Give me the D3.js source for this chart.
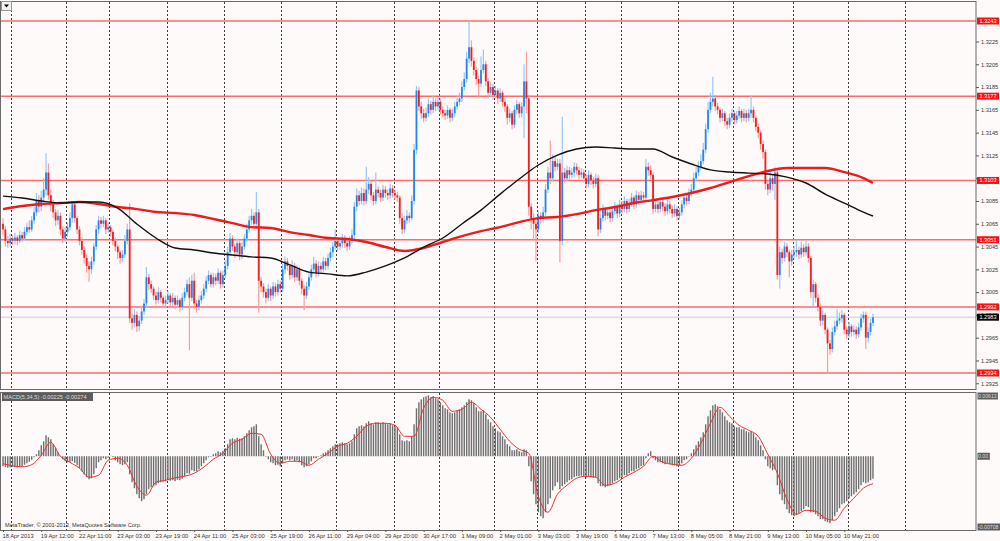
<!DOCTYPE html>
<html>
<head>
<meta charset="utf-8">
<script src="https://cdn.jsdelivr.net/npm/d3@7"></script>
<style>
  body { margin: 0; background: #fffafa; }
  svg { display: block; font-family: "Liberation Sans", Arial, sans-serif; }
</style>
</head>
<body>
<script>
// prices are kept as pips above 1.2900
const BASE = 1.29;
const firstOpen = 165;

const closes = [
  160,150,148,152,150,153,150,155,152,158, 162,160,168,175,185,180,188,195,210,190,
  182,175,168,172,160,152,158,162,170,182, 170,160,150,142,135,128,125,132,145,160,
  168,165,168,160,162,158,150,145,140,135, 138,150,160,82,78,85,75,80,88,95,
  118,112,108,102,98,105,100,95,98,102, 96,100,94,98,92,100,105,112,100,115,
  95,92,98,102,108,115,120,112,118,115, 122,112,120,128,140,152,145,140,148,138,
  145,152,160,168,172,165,175,115,110,105, 100,108,102,110,105,112,108,125,132,128,
  120,128,118,125,115,108,102,110,118,125, 130,122,128,125,132,128,135,140,145,150,
  145,148,152,148,145,150,155,180,190,185, 192,185,195,200,190,185,195,192,188,195,
  192,190,196,192,190,188,170,160,168,172, 170,185,230,282,268,262,258,262,270,265,
  272,268,272,265,262,260,265,258,262,268, 272,275,285,292,310,320,308,300,292,288,
  300,305,290,280,285,278,282,275,280,272, 268,258,262,252,265,270,262,268,290,275,
  180,170,165,160,172,170,175,195,210,205, 220,215,218,150,210,205,212,208,210,215,
  212,208,210,205,200,208,203,200,205,160, 170,178,172,175,170,176,180,174,182,178,
  185,178,183,188,182,190,186,190,188,215, 212,208,178,182,178,184,180,176,182,178,
  174,178,172,175,182,188,185,192,195,205, 210,215,220,230,248,265,272,275,268,265,
  258,262,255,252,258,262,256,260,264,258, 262,258,262,265,258,250,245,235,228,200,
  195,205,200,210,120,140,135,145,140,132, 138,140,142,138,144,140,145,135,105,112,
  100,92,80,85,72,60,55,70,75,80, 82,85,72,68,75,70,72,68,74,82,
  85,65,70,78,83
];

const highs = [
  170,163,154,156,155,157,155,159,158,162, 166,168,172,180,192,190,194,205,227,218,
  195,186,178,177,175,163,162,166,175,185, 184,172,163,153,145,138,132,136,148,164,
  172,171,172,170,166,164,160,153,147,142, 142,155,165,183,86,90,88,84,93,99,
  127,121,115,110,105,109,107,102,102,106, 104,104,102,102,100,104,109,116,118,120,
  122,98,102,106,112,119,124,122,122,121, 126,124,124,133,145,157,155,148,152,150,
  149,156,165,172,178,175,193,178,118,113, 108,112,110,114,113,116,115,130,136,135,
  130,133,131,129,127,117,111,114,122,129, 136,133,132,131,136,135,139,144,149,160,
  152,152,156,155,151,154,160,184,196,194, 197,196,215,206,203,193,210,198,195,199,
  198,195,200,199,195,193,190,174,172,177, 175,190,235,286,285,272,266,267,275,273,
  277,275,276,275,268,265,269,267,266,272, 277,280,290,298,316,343,326,311,303,295,
  312,318,308,293,290,288,286,284,284,282, 275,270,266,264,269,274,272,272,305,316,
  278,183,174,168,176,175,180,200,215,238, 226,224,222,222,259,214,216,215,214,219,
  218,215,214,213,208,212,210,206,209,208, 174,182,180,179,177,180,184,182,186,185,
  189,187,187,192,190,194,193,194,193,222, 219,216,210,186,185,188,187,183,186,185,
  181,182,180,179,186,192,191,196,200,210, 215,220,226,236,253,272,280,294,278,271,
  267,266,264,258,262,266,264,264,268,266, 266,265,266,278,268,260,253,247,238,230,
  203,212,208,215,212,145,143,149,148,142, 142,145,151,145,149,147,150,148,137,116,
  114,103,95,89,87,74,63,74,80,90, 87,89,87,75,79,77,76,75,78,86,
  88,88,74,82,86
];

const lows = [
  155,145,144,145,146,147,146,148,149,150, 155,157,158,165,172,175,176,185,190,186,
  176,170,163,164,155,148,149,154,159,166, 166,156,146,138,130,122,114,121,129,142,
  156,161,162,156,157,154,146,141,134,130, 131,135,147,78,72,74,70,71,77,85,
  92,107,104,98,94,95,96,91,92,95, 92,93,90,91,88,89,97,102,54,97,
  90,87,89,95,99,105,112,109,109,111, 112,108,109,117,125,137,141,135,137,133,
  134,142,149,157,164,161,162,87,105,100, 95,97,97,99,101,102,104,105,121,124,
  116,117,114,115,111,103,89,99,107,115, 122,118,119,121,122,124,125,132,136,142,
  141,142,144,144,141,142,147,152,176,181, 182,181,182,191,186,181,182,188,184,185,
  188,186,187,188,186,184,165,156,157,165, 166,168,182,226,264,257,254,255,259,261,
  262,264,265,261,258,256,257,254,255,259, 265,269,272,282,289,306,303,295,287,276,
  285,297,286,275,276,274,275,270,272,268, 263,252,254,248,249,261,258,258,240,262,
  172,160,150,132,157,165,166,172,192,200, 202,211,212,131,146,201,202,204,205,206,
  208,204,205,201,196,197,199,196,197,154, 157,167,168,169,166,167,173,170,171,174,
  175,174,175,180,178,179,182,183,184,185, 207,204,174,175,174,175,176,172,173,174,
  170,171,168,169,172,179,181,182,189,192, 202,207,212,217,227,245,262,268,264,261,
  254,255,251,248,249,255,252,253,257,254, 255,254,255,258,254,246,240,230,222,195,
  190,192,194,186,116,108,130,132,136,118, 128,134,136,134,135,136,137,131,100,92,
  96,88,75,76,68,34,50,52,67,72, 77,78,68,64,65,66,67,64,65,71,
  78,55,61,67,75
];

// moving averages, read every 8 bars (last point at bar 364)
const maBars = [0,8,16,24,32,40,48,56,64,72,80,88,96,104,112,120,128,136,144,152,160,168,
  176,184,192,200,208,216,224,232,240,248,256,264,272,280,288,296,304,312,320,328,336,344,352,360,364];
const maBlack = [189.3,187.6,185,183.2,184.1,184.1,178.8,164.8,152.5,143.7,142,139.4,137.6,135.9,
  135,128.9,122.6,121,119.3,122.6,128,135,144.6,152.5,164.8,177,191,204.3,216.6,225.3,230.6,
  232.4,231.5,230.6,230.6,223.6,217.5,212.3,210.4,209.5,208.7,206,200.8,191,183.2,175.3,171.8];
const maRed = [177.9,180.6,182.3,183.2,184.1,182.3,179.7,177.9,175.3,174.4,172.7,169.2,165.6,162.1,
  161.3,157.7,155.1,152.5,151.6,149,144.6,141.1,143.7,149,154.2,158.6,162.1,166.5,170,170.9,173.5,
  177,179.7,183.2,185.8,188.5,192,196.4,201.6,206.9,211.3,214,214,214,210.4,205.1,200.8];

// MACD(5,34,5) histogram, in 0.00001
const macdHist = [
  -100,-110,-115,-110,-105,-110,-112,-108,-100,-85, -70,-55,-35,-10,20,60,110,150,210,190,
  170,120,80,40,0,-30,-50,-60,-55,-50, -65,-90,-120,-150,-180,-210,-230,-220,-180,-120,
  -60,-40,-20,-30,-15,5,-10,-40,-60,-80, -90,-80,-60,-180,-260,-320,-380,-420,-450,-430,
  -380,-330,-310,-300,-290,-270,-260,-255,-250,-240, -245,-240,-250,-235,-240,-225,-200,-170,-175,-140,
  -150,-150,-130,-100,-70,-40,-10,0,20,30, 50,40,55,80,120,170,180,170,185,175,
  180,200,230,260,290,300,320,200,120,60, 0,-30,-60,-70,-90,-85,-100,-70,-40,-30,
  -40,-30,-50,-40,-60,-90,-110,-100,-80,-50, -20,-20,0,10,30,40,60,80,100,120,
  120,130,140,130,120,130,150,220,280,300, 310,300,330,350,330,320,340,340,330,340,
  330,320,330,310,300,290,220,160,150,160, 150,200,320,480,540,570,590,600,610,590,
  600,580,570,540,510,480,470,440,430,440, 460,470,490,510,540,570,560,530,490,450,
  450,460,420,370,340,300,280,250,240,200, 170,120,100,60,60,70,50,40,70,60,
  -100,-250,-380,-480,-560,-600,-620,-560,-480,-420, -340,-300,-260,-330,-300,-280,-260,-240,-230,-210,
  -200,-200,-195,-200,-210,-200,-210,-215,-210,-270, -300,-300,-310,-300,-290,-270,-250,-240,-220,-210,
  -190,-190,-170,-150,-150,-130,-120,-100,-90,-20, 30,50,-20,-40,-60,-60,-70,-80,-70,-80,
  -90,-90,-100,-90,-70,-40,-30,0,30,70, 110,150,190,240,320,400,460,510,520,500,
  470,440,400,360,340,330,300,290,290,270, 270,250,240,250,230,190,160,110,60,-30,
  -100,-120,-140,-130,-290,-380,-440,-480,-530,-570, -590,-600,-590,-570,-550,-530,-500,-510,-560,-560,
  -580,-600,-630,-630,-650,-660,-670,-640,-600,-560, -520,-480,-470,-450,-420,-400,-380,-360,-330,-290,
  -260,-270,-260,-240,-225
];
// signal line, read every 4 bars
const macdSignal = [-75,-95,-105,-85,10,140,0,-60,-120,-210,-190,-40,-20,-90,-300,-390,-260,-240,-215,
  -200,-170,-110,-30,30,130,170,230,220,20,-70,-50,-50,-90,-30,30,100,130,200,300,330,330,310,200,200,
  480,590,560,450,470,540,470,390,270,150,70,30,-400,-560,-380,-290,-220,-200,-210,-290,-270,-210,-160,
  -100,0,-60,-80,-90,-20,130,330,490,400,310,260,200,20,-170,-430,-580,-540,-550,-620,-640,-520,-420,
  -320,-274];

const levels = [1.3243, 1.3177, 1.3103, 1.3051, 1.2992, 1.2934];
const lastPrice = 1.2983;
const priceTicks = [1.3225,1.3205,1.3185,1.3165,1.3145,1.3125,1.3105,1.3085,1.3065,1.3045,
  1.3025,1.3005,1.2985,1.2965,1.2945,1.2925];
const macdTicks = [0.00613, 0, -0.00708];
const macdTickLabels = ["0.00613", "0.00", "-0.00708"];

const dayStartBars = [4,27,45,69,93,117,140,164,183,206,224,244,259,283,306,331,354,378];
const timeLabelBars = [0,16,32,48,64,80,96,112,128,144,160,176,192,208,224,240,256,272,288,304,320,336,352];
const timeLabels = ["18 Apr 2013","19 Apr 12:00","22 Apr 11:00","23 Apr 03:00","23 Apr 19:00",
  "24 Apr 11:00","25 Apr 03:00","25 Apr 19:00","26 Apr 11:00","29 Apr 04:00","29 Apr 20:00",
  "30 Apr 17:00","1 May 09:00","2 May 01:00","3 May 03:00","3 May 19:00","6 May 21:00",
  "7 May 13:00","8 May 05:00","8 May 21:00","9 May 13:00","10 May 05:00","10 May 21:00"];

function toPrice(p) { return BASE + p / 10000; }

var width = 1000, height = 541;
var main = {left: 1, right: 976, top: 1, bottom: 389};
var sub = {top: 392, bottom: 530};
var barStep = 2.39;

var x = d3.scaleLinear().domain([0, 364]).range([3, 3 + 364 * barStep]);
var y = d3.scaleLinear().domain([1.2934, 1.3243]).range([373, 21]);
var ym = d3.scaleLinear().domain([-0.00708, 0.00613]).range([527, 395]);

var bars = closes.map(function(c, i) {
  return {i: i, o: i ? closes[i - 1] : firstOpen, c: c, h: highs[i], l: lows[i]};
});

var svg = d3.select("body").append("svg")
    .attr("width", width)
    .attr("height", height);

svg.append("rect").attr("width", width).attr("height", height).attr("fill", "#fffafa");

var defs = svg.append("defs");
defs.append("clipPath").attr("id", "clipMain").append("rect")
    .attr("x", main.left).attr("y", main.top + 1)
    .attr("width", main.right - main.left).attr("height", main.bottom - main.top - 1);
defs.append("clipPath").attr("id", "clipSub").append("rect")
    .attr("x", main.left).attr("y", sub.top + 1)
    .attr("width", main.right - main.left).attr("height", sub.bottom - sub.top - 1);

// day separators, dotted, through both panels
var grid = svg.append("g").attr("stroke", "#3a3a3a").attr("stroke-dasharray", "2,2");
[[main.top + 1, main.bottom], [sub.top + 1, sub.bottom]].forEach(function(r) {
  grid.selectAll(null)
      .data(dayStartBars)
    .enter().append("line")
      .attr("x1", function(d) { return Math.round(x(d) - barStep / 2) + 0.5; })
      .attr("x2", function(d) { return Math.round(x(d) - barStep / 2) + 0.5; })
      .attr("y1", r[0]).attr("y2", r[1]);
});

var gMain = svg.append("g").attr("clip-path", "url(#clipMain)");

gMain.append("line")
    .attr("x1", main.left).attr("x2", main.right)
    .attr("y1", y(lastPrice)).attr("y2", y(lastPrice))
    .attr("stroke", "#cccccc");

gMain.selectAll(".level")
    .data(levels)
  .enter().append("line")
    .attr("class", "level")
    .attr("x1", main.left).attr("x2", main.right)
    .attr("y1", function(d) { return y(d); })
    .attr("y2", function(d) { return y(d); })
    .attr("stroke", "#ff6a6a")
    .attr("stroke-width", 1.4);

// candles
gMain.selectAll(".wick")
    .data(bars)
  .enter().append("rect")
    .attr("class", "wick")
    .attr("x", function(d) { return x(d.i) - 0.6; })
    .attr("width", 1.2)
    .attr("y", function(d) { return y(toPrice(d.h)); })
    .attr("height", function(d) { return Math.max(1, y(toPrice(d.l)) - y(toPrice(d.h))); })
    .attr("fill", function(d) { return d.c >= d.o ? "#94c8fb" : "#ff9c9c"; });

gMain.selectAll(".body")
    .data(bars)
  .enter().append("rect")
    .attr("class", "body")
    .attr("x", function(d) { return x(d.i) - 0.9; })
    .attr("width", 1.8)
    .attr("y", function(d) { return y(toPrice(Math.max(d.o, d.c))); })
    .attr("height", function(d) { return Math.max(1, Math.abs(y(toPrice(d.o)) - y(toPrice(d.c)))); })
    .attr("fill", function(d) { return d.c >= d.o ? "#1e88f0" : "#f51c1c"; });

var maLine = d3.line()
    .x(function(d) { return x(d.bar); })
    .y(function(d) { return y(toPrice(d.v)); })
    .curve(d3.curveMonotoneX);

gMain.append("path")
    .datum(maBars.map(function(b, k) { return {bar: b, v: maRed[k]}; }))
    .attr("d", maLine)
    .attr("fill", "none")
    .attr("stroke", "#ec1c1c")
    .attr("stroke-width", 2.4);

gMain.append("path")
    .datum(maBars.map(function(b, k) { return {bar: b, v: maBlack[k]}; }))
    .attr("d", maLine)
    .attr("fill", "none")
    .attr("stroke", "#111")
    .attr("stroke-width", 1.4);

// MACD panel
var gSub = svg.append("g").attr("clip-path", "url(#clipSub)");

gSub.selectAll(".hist")
    .data(macdHist)
  .enter().append("rect")
    .attr("class", "hist")
    .attr("x", function(d, i) { return x(i) - 0.7; })
    .attr("width", 1.4)
    .attr("y", function(d) { return Math.min(ym(0), ym(d / 1e5)); })
    .attr("height", function(d) { return Math.max(0.5, Math.abs(ym(d / 1e5) - ym(0))); })
    .attr("fill", "#6e6e6e");

gSub.append("path")
    .datum(macdSignal)
    .attr("d", d3.line()
        .x(function(d, k) { return x(k * 4); })
        .y(function(d) { return ym(d / 1e5); })
        .curve(d3.curveMonotoneX))
    .attr("fill", "none")
    .attr("stroke", "#f03030")
    .attr("stroke-width", 1);

// frames
var frame = svg.append("g").attr("fill", "none").attr("stroke", "#6a6a6a");
frame.append("rect")
    .attr("x", main.left - 0.5).attr("y", main.top + 0.5)
    .attr("width", main.right - main.left + 0.5).attr("height", main.bottom - main.top);
frame.append("rect")
    .attr("x", main.left - 0.5).attr("y", sub.top + 0.5)
    .attr("width", main.right - main.left + 0.5).attr("height", sub.bottom - sub.top);

// price axis
var axisP = svg.append("g")
    .attr("transform", "translate(" + main.right + ",0)")
    .call(d3.axisRight(y).tickValues(priceTicks).tickFormat(d3.format(".4f")).tickSize(3).tickPadding(2));
axisP.select(".domain").remove();
axisP.selectAll("line").attr("stroke", "#555");
axisP.selectAll("text").attr("font-size", "5.6px").attr("fill", "#333").attr("font-family", "Liberation Sans, Arial");

// level and price tags
var tags = svg.append("g");
levels.forEach(function(v) {
  tags.append("rect").attr("x", main.right + 1).attr("y", y(v) - 3.5)
      .attr("width", 22).attr("height", 7).attr("fill", "#ff1010");
  tags.append("text").attr("x", main.right + 12).attr("y", y(v) + 2)
      .attr("text-anchor", "middle").attr("font-size", "5.6px").attr("fill", "#fff")
      .text(v.toFixed(4));
});
tags.append("rect").attr("x", main.right + 1).attr("y", y(lastPrice) - 3.5)
    .attr("width", 22).attr("height", 7).attr("fill", "#000");
tags.append("text").attr("x", main.right + 12).attr("y", y(lastPrice) + 2)
    .attr("text-anchor", "middle").attr("font-size", "5.6px").attr("fill", "#fff")
    .text(lastPrice.toFixed(4));

// MACD axis tags
macdTicks.forEach(function(v, k) {
  var t = macdTickLabels[k];
  var w = t.length * 2.7 + 1.5;
  var yy = Math.max(sub.top + 4, Math.min(sub.bottom - 3, ym(v)));
  tags.append("rect").attr("x", main.right + 1.5).attr("y", yy - 3.5)
      .attr("width", w).attr("height", 7).attr("fill", "#5c5c5c");
  tags.append("text").attr("x", main.right + 2).attr("y", yy + 2)
      .attr("font-size", "5.2px").attr("fill", "#dcdcdc").text(t);
});

// MACD caption
svg.append("rect").attr("x", 2).attr("y", sub.top + 1).attr("width", 91).attr("height", 8)
    .attr("fill", "#5c5c5c");
svg.append("text").attr("x", 3.5).attr("y", sub.top + 7.2)
    .attr("font-size", "5.6px").attr("fill", "#dedede")
    .text("MACD(5,34,5) -0.00225 -0.00274");

svg.append("text").attr("x", 5).attr("y", sub.bottom - 3)
    .attr("font-size", "5.6px").attr("fill", "#333")
    .text("MetaTrader, \u00a9 2001-2013, MetaQuotes Software Corp.");

// time axis
var axisT = svg.append("g")
    .attr("transform", "translate(0," + sub.bottom + ")")
    .call(d3.axisBottom(x).tickValues(timeLabelBars)
        .tickFormat(function(d, i) { return timeLabels[i]; }).tickSize(2).tickPadding(2));
axisT.select(".domain").remove();
axisT.selectAll("line").attr("stroke", "#555");
axisT.selectAll("text").attr("text-anchor", "start").attr("dx", "-1")
    .attr("font-size", "5.8px").attr("fill", "#333").attr("font-family", "Liberation Sans, Arial");

// chart menu button
svg.append("rect").attr("x", 1.5).attr("y", 1.5).attr("width", 10).attr("height", 9)
    .attr("fill", "#f2f2f2").attr("stroke", "#999");
svg.append("path").attr("d", "M4,4.5 L9,4.5 L6.5,7.5 Z").attr("fill", "#000");
</script>
</body>
</html>
